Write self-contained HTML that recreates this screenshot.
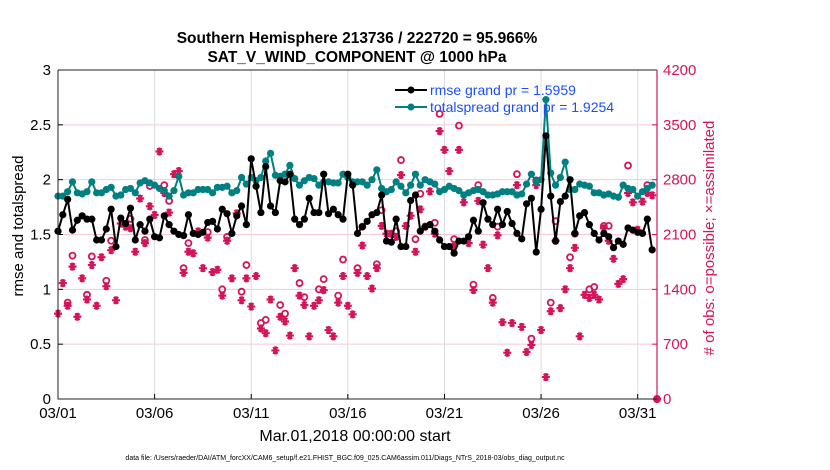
<!DOCTYPE html>
<html><head><meta charset="utf-8">
<style>
body{margin:0;background:#fff;}
svg{display:block;font-family:"Liberation Sans",sans-serif;}
</style></head>
<body>
<svg id="chart" width="830" height="470" viewBox="0 0 830 470" xmlns="http://www.w3.org/2000/svg">
<rect width="830" height="470" fill="#fff"/>
<g id="grid"></g>
<g id="series"></g>
<g id="axes"></g>
<text x="357" y="43" text-anchor="middle" font-size="15.5" font-weight="bold">Southern Hemisphere 213736 / 222720 = 95.966%</text>
<text x="357" y="62" text-anchor="middle" font-size="15.5" font-weight="bold">SAT_V_WIND_COMPONENT @ 1000 hPa</text>
<text transform="translate(23,226) rotate(-90)" text-anchor="middle" font-size="15">rmse and totalspread</text>
<text transform="translate(714,238) rotate(-90)" text-anchor="middle" font-size="15" fill="#d4145a"># of obs: o=possible; ×=assimilated</text>
<text x="355" y="441" text-anchor="middle" font-size="16">Mar.01,2018 00:00:00 start</text>
<text x="345" y="460" text-anchor="middle" font-size="7">data file: /Users/raeder/DAI/ATM_forcXX/CAM6_setup/f.e21.FHIST_BGC.f09_025.CAM6assim.011/Diags_NTrS_2018-03/obs_diag_output.nc</text>
<g>
<line x1="395" y1="90" x2="427" y2="90" stroke="#000" stroke-width="2"/>
<circle cx="411" cy="90" r="3.5" fill="#000"/>
<text x="430" y="95" font-size="14" fill="#1a4dff">rmse grand pr = 1.5959</text>
<line x1="395" y1="107" x2="427" y2="107" stroke="#008080" stroke-width="2"/>
<circle cx="411" cy="107" r="3.5" fill="#008080"/>
<text x="430" y="112" font-size="14" fill="#1a4dff">totalspread grand pr = 1.9254</text>
</g>
</svg>
<script>
const rmse=[1.53,1.68,1.82,1.54,1.63,1.67,1.64,1.64,1.45,1.45,1.55,1.73,1.39,1.65,1.60,1.74,1.45,1.59,1.53,1.64,1.48,1.47,1.67,1.59,1.53,1.50,1.49,1.68,1.51,1.50,1.52,1.61,
1.62,1.55,1.73,1.69,1.51,1.67,1.76,1.59,2.19,1.94,1.70,2.12,1.76,1.70,1.99,1.98,2.05,1.64,1.59,1.64,1.83,1.70,1.70,2.05,1.69,1.73,1.68,1.64,2.05,1.95,1.51,
1.57,1.62,1.68,1.70,1.86,1.44,1.43,1.64,1.39,1.39,1.81,1.86,1.53,1.57,1.59,1.53,1.45,1.39,1.39,1.33,1.44,1.44,1.48,1.63,1.53,1.79,1.64,1.59,1.73,1.59,1.71,
1.60,1.51,1.46,1.78,1.83,1.34,1.73,2.40,1.85,1.44,1.80,1.85,2.00,1.51,1.67,1.70,1.59,1.51,1.45,1.51,1.48,1.38,1.44,1.41,1.56,1.54,1.52,1.51,1.64,1.36];
const spread=[1.85,1.85,1.89,1.98,1.88,1.87,1.89,1.98,1.88,1.88,1.91,1.93,1.85,1.86,1.91,1.92,1.88,1.97,1.99,1.97,1.95,1.92,1.90,1.85,1.90,2.03,1.86,1.88,1.88,1.91,1.91,1.91,
1.88,1.93,1.93,1.94,1.88,1.90,2.02,1.96,2.02,1.99,2.02,2.17,2.24,2.04,2.03,2.05,2.13,2.01,1.95,1.99,2.02,2.01,1.95,1.98,1.98,1.97,1.97,2.05,2.02,1.98,1.98,
1.98,1.95,2.00,2.09,1.92,1.89,1.91,1.98,1.94,1.88,1.95,2.05,1.95,2.00,1.98,1.96,1.89,1.91,1.94,1.92,1.90,1.86,1.88,1.90,1.91,1.89,1.86,1.86,1.87,1.89,1.89,
1.89,1.86,1.87,1.96,2.05,1.98,2.00,2.73,2.06,1.95,2.02,2.16,1.91,1.91,1.96,1.95,1.94,1.88,1.88,1.86,1.87,1.85,1.84,1.95,1.92,1.91,1.85,1.89,1.92,1.95];
const assimilated=[1090,1480,1190,1690,1050,1540,1270,1710,1190,1810,1440,1900,1260,2240,2200,2180,1880,2560,1990,2460,2350,3160,2630,2380,2870,2910,1610,1880,1860,2140,1670,2060,
1620,1650,1320,2020,1540,2370,1260,1540,1180,1570,900,840,1270,620,1050,990,810,1670,1320,1200,800,1190,1260,1390,880,800,1230,1570,1190,1080,1610,
1960,1570,1410,1670,2210,2110,2110,2070,2860,2210,2340,1880,2420,2200,2650,2110,3420,3180,2910,1950,3180,2510,1990,1390,2530,1970,1670,1230,2090,980,590,
970,2730,920,600,690,2730,880,280,1120,2020,1160,1400,1670,1930,800,1330,1290,1330,1270,2180,2020,1790,1470,1530,2630,2510,2160,2520,2630,2600,0];
const possibleIdx=[2,3,6,7,10,11,15,18,19,22,23,26,27,31,34,35,38,39,42,43,46,47,50,51,54,55,58,59,62,63,66,67,70,71,74,75,78,79,82,83,86,87,90,91,95,98,99,102,103,106,107,110,111,113,114,118,122,124];
const possibleCount=[1230,1830,1330,1820,1510,2020,2300,2030,2720,2730,2530,1670,1990,2130,1400,2070,1370,1710,970,1010,1200,1090,1480,1300,1400,1530,1320,1780,1670,2200,1720,2410,2140,3050,2040,2620,2250,3640,2040,3490,1460,2730,1290,2200,2870,770,2790,1230,2270,1810,2110,1400,1430,2210,2210,2980,2730,0];
const xTickLabels=["03/01","03/06","03/11","03/16","03/21","03/26","03/31"];
const xTickDays=[0,5,10,15,20,25,30];
const yLeftTicks=[0,0.5,1,1.5,2,2.5,3];
const yLeftLabels=["0","0.5","1","1.5","2","2.5","3"];
const yRightTicks=[0,700,1400,2100,2800,3500,4200];

const L=58,R=657,T=70,B=399,DAYS=31,STEP=0.25;
const xs=d=>L+(R-L)*d/DAYS;
const yl=v=>B-(B-T)*v/3;
const yr=v=>B-(B-T)*v/4200;
const NS="http://www.w3.org/2000/svg";
function mk(tag,attrs,parent){const e=document.createElementNS(NS,tag);for(const k in attrs)e.setAttribute(k,attrs[k]);parent.appendChild(e);return e;}
const grid=document.getElementById('grid'),ser=document.getElementById('series'),ax=document.getElementById('axes');
const PINK="#d4145a";
yLeftTicks.forEach((v,i)=>{
 const g=mk('line',{x1:L,x2:R,y1:yl(v),y2:yl(v),stroke:'#f4c8d8','stroke-width':1},grid);
 
 
 const t=mk('line',{x1:L,x2:L+5,y1:yl(v),y2:yl(v),stroke:'#000'},ax);
 
 
 const lb=mk('text',{x:L-7,y:yl(v)+5,'text-anchor':'end','font-size':15},ax);
 lb.textContent=yLeftLabels[i];
 
 
});
yRightTicks.forEach(v=>{
 const t=mk('line',{x1:R-5,x2:R,y1:yr(v),y2:yr(v),stroke:PINK},ax);
 
 
 const lb=mk('text',{x:R+6,y:yr(v)+5,'font-size':15,fill:PINK},ax);
 lb.textContent=String(v);
 
 
});
xTickDays.forEach((d,i)=>{
 const g=mk('line',{x1:xs(d),x2:xs(d),y1:T,y2:B,stroke:'#dddddd','stroke-width':1},grid);
 
 
 const t=mk('line',{x1:xs(d),x2:xs(d),y1:B,y2:B-5,stroke:'#000'},ax);
 
 
 const lb=mk('text',{x:xs(d),y:B+19,'text-anchor':'middle','font-size':15},ax);
 lb.textContent=xTickLabels[i];
 
 
});
const fr=mk('path',{d:`M${L},${T}H${R}M${L},${T}V${B}H${R}`,stroke:'#222',fill:'none','stroke-width':1},ax);


const ra=mk('line',{x1:R,x2:R,y1:T,y2:B,stroke:PINK,'stroke-width':1.2},ax);



function star(cx,cy,r,name){
 const p=mk('path',{d:`M${cx-r},${cy}H${cx+r}M${cx-r*0.5},${cy-r*0.87}L${cx+r*0.5},${cy+r*0.87}M${cx+r*0.5},${cy-r*0.87}L${cx-r*0.5},${cy+r*0.87}M${cx},${cy-r}V${cy+r}`,stroke:PINK,'stroke-width':2.2,fill:'none'},ser);
 
 
}
assimilated.forEach((v,i)=>{ if(v!=null) star(xs(i*STEP),yr(v),4,'assimilated-marker'); });
possibleIdx.forEach((idx,k)=>{
 const c=mk('circle',{cx:xs(idx*STEP),cy:yr(possibleCount[k]),r:3,fill:'none',stroke:PINK,'stroke-width':1.8},ser);
 
 
});
function line(vals,color,name){
 const pts=vals.map((v,i)=>xs(i*STEP).toFixed(1)+','+yl(v).toFixed(1)).join(' ');
 const pl=mk('polyline',{points:pts,fill:'none',stroke:color,'stroke-width':2,'stroke-linejoin':'round'},ser);
 
 
 vals.forEach((v,i)=>{
  const c=mk('circle',{cx:xs(i*STEP),cy:yl(v),r:3.6,fill:color},ser);
  
  
 });
}
line(spread,'#008080','totalspread');
line(rmse,'#000','rmse');
</script>
</body></html>
